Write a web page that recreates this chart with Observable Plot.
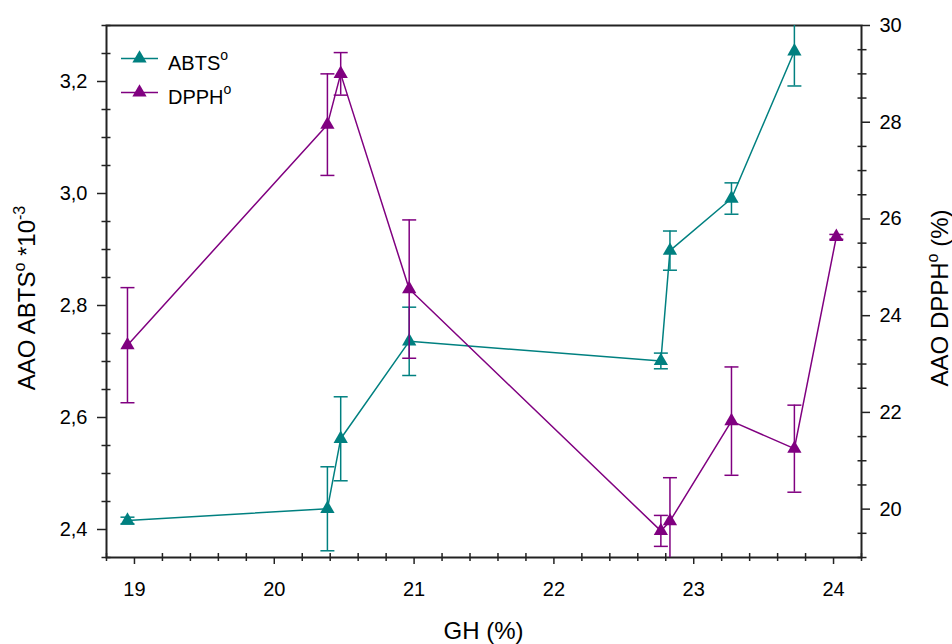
<!DOCTYPE html>
<html>
<head>
<meta charset="utf-8">
<script src="https://cdn.jsdelivr.net/npm/d3@7"></script>
<script src="https://cdn.jsdelivr.net/npm/@observablehq/plot@0.6"></script>
<style>
  html, body { margin: 0; padding: 0; background: #fff; }
  svg text { font-family: "Liberation Sans", Arial, sans-serif; }
</style>
</head>
<body>
<script>
// GH content (%) of each sample and the measured antioxidant activity
const ghAbts = [18.95, 20.38, 20.475, 20.965, 22.765, 22.83, 23.27, 23.72];
const abts = [2.416, 2.437, 2.562, 2.736, 2.701, 2.898, 2.991, 3.254];
const abtsSd = [0.006, 0.075, 0.075, 0.061, 0.014, 0.035, 0.028, 0.062];

const ghDpph = [18.95, 20.38, 20.475, 20.965, 22.765, 22.83, 23.27, 23.72, 24.02];
const dpph = [23.39, 27.95, 29.0, 24.55, 19.55, 19.75, 21.82, 21.25, 25.63];
const dpphSd = [1.19, 1.05, 0.44, 1.43, 0.32, 0.9, 1.12, 0.9, 0.05];

// axis domains and tick labels
const xDomain = [18.8, 24.2];
const abtsDomain = [2.35, 3.3];
const dpphDomain = [19, 30];
const xTicks = [19, 20, 21, 22, 23, 24];
const abtsTicks = [2.4, 2.6, 2.8, 3.0, 3.2];
const dpphTicks = [20, 22, 24, 26, 28, 30];

const teal = "#008080";
const purple = "#800080";
const axisColor = "#222";

// minor ticks between the labelled ones
const isMajor = (v, step) => Math.abs(v / step - Math.round(v / step)) < 1e-6;
const xMinor = d3.range(94, 122).map(i => i / 5).filter(v => !isMajor(v, 1));
const abtsMinor = d3.range(47, 67).map(i => i / 20).filter(v => !isMajor(v, 0.2));
const dpphMinor = d3.range(38, 60).map(i => i / 2).filter(v => !isMajor(v, 2));

// the DPPH series shares the plot area through a linear map onto the left scale
const toLeft = d3.scaleLinear(dpphDomain, abtsDomain);

const abtsRows = ghAbts.map((gh, i) => ({gh, v: abts[i], lo: abts[i] - abtsSd[i], hi: abts[i] + abtsSd[i]}));
const dpphRows = ghDpph.map((gh, i) => ({gh, v: toLeft(dpph[i]), lo: toLeft(dpph[i] - dpphSd[i]), hi: toLeft(dpph[i] + dpphSd[i])}));

// horizontal error-bar cap
const cap = {draw(context) { context.moveTo(-7, 0); context.lineTo(7, 0); }};
const comma = d => d.toFixed(1).replace(".", ",");

function series(rows, color) {
  return [
    Plot.line(rows, {x: "gh", y: "v", stroke: color, strokeWidth: 1.5}),
    Plot.ruleX(rows, {x: "gh", y1: "lo", y2: "hi", stroke: color, strokeWidth: 1.5, clip: true}),
    Plot.dot(rows, {x: "gh", y: "lo", symbol: cap, stroke: color, strokeWidth: 1.5, fill: "none", clip: true}),
    Plot.dot(rows, {x: "gh", y: "hi", symbol: cap, stroke: color, strokeWidth: 1.5, fill: "none", clip: true}),
    Plot.dot(rows, {x: "gh", y: "v", symbol: "triangle", r: 5.3, fill: color, stroke: null})
  ];
}

const chart = Plot.plot({
  width: 952,
  height: 644,
  marginLeft: 106,
  marginRight: 91,
  marginTop: 25,
  marginBottom: 87,
  style: {fontFamily: "'Liberation Sans', Arial, sans-serif", fontSize: "20px", color: "#000", background: "#fff"},
  x: {domain: xDomain, label: null},
  y: {domain: abtsDomain, label: null},
  marks: [
    // x axis
    Plot.axisX(xTicks, {anchor: "bottom", tickSize: 7, tickPadding: 17, strokeWidth: 1.5, stroke: axisColor, label: null, tickFormat: d => String(d)}),
    Plot.axisX(xMinor, {anchor: "bottom", tickSize: 8, dy: -4, strokeWidth: 1.5, stroke: axisColor, label: null, tickFormat: () => ""}),
    // left axis: ABTS
    Plot.axisY(abtsTicks, {anchor: "left", tickSize: 9, tickPadding: 10, strokeWidth: 1.5, stroke: axisColor, label: null, tickFormat: comma}),
    Plot.axisY(abtsMinor, {anchor: "left", tickSize: 9, dx: 4.5, strokeWidth: 1.5, stroke: axisColor, label: null, tickFormat: () => ""}),
    // right axis: DPPH
    Plot.axisY(dpphTicks.map(toLeft), {anchor: "right", tickSize: 8, tickPadding: 10, strokeWidth: 1.5, stroke: axisColor, label: null, tickFormat: d => String(Math.round(toLeft.invert(d)))}),
    Plot.axisY(dpphMinor.map(toLeft), {anchor: "right", tickSize: 9, dx: -4.5, strokeWidth: 1.5, stroke: axisColor, label: null, tickFormat: () => ""}),
    Plot.frame({stroke: axisColor, strokeWidth: 2}),
    ...series(abtsRows, teal),
    ...series(dpphRows, purple)
  ]
});

document.body.appendChild(chart);

// axis titles and legend with superscripts
const svg = d3.select(chart);
const font = "'Liberation Sans', Arial, sans-serif";

// parts: [{t}] plain runs, [{sup}] raised runs; the run after a raised one drops back down
function richText(sel, parts, size, supSize, shift) {
  let raised = false;
  parts.forEach(p => {
    const span = sel.append("tspan");
    if (p.sup) {
      span.attr("font-size", supSize).attr("dy", raised ? 0 : -shift).text(p.sup);
      raised = true;
    } else {
      span.attr("font-size", size).attr("dy", raised ? shift : 0).text(p.t);
      raised = false;
    }
  });
}

const xTitle = svg.append("text")
  .attr("x", 483.5).attr("y", 639)
  .attr("text-anchor", "middle").attr("font-family", font).attr("fill", "#000");
richText(xTitle, [{t: "GH (%)"}], 24, 16, 10);

const leftTitle = svg.append("text")
  .attr("transform", "translate(35,298) rotate(-90)")
  .attr("text-anchor", "middle").attr("font-family", font).attr("fill", "#000");
richText(leftTitle, [{t: "AAO ABTS"}, {sup: "o"}, {t: " *10"}, {sup: "-3"}], 24, 16, 10);

const rightTitle = svg.append("text")
  .attr("transform", "translate(948,298) rotate(-90)")
  .attr("text-anchor", "middle").attr("font-family", font).attr("fill", "#000");
richText(rightTitle, [{t: "AAO DPPH"}, {sup: "o"}, {t: " (%)"}], 24, 16, 10);

const legendItems = [
  {label: "ABTS", color: teal, y: 58.5},
  {label: "DPPH", color: purple, y: 92.5}
];
const tri = d3.symbol(d3.symbolTriangle, Math.PI * 5.3 * 5.3)();
const legend = svg.append("g");
legendItems.forEach(item => {
  const g = legend.append("g").attr("transform", `translate(0,${item.y})`);
  g.append("line").attr("x1", 121).attr("x2", 158).attr("stroke", item.color).attr("stroke-width", 1.5);
  g.append("path").attr("d", tri).attr("transform", "translate(139.5,0)").attr("fill", item.color);
  const t = g.append("text").attr("x", 168).attr("y", 11.5)
    .attr("text-anchor", "start").attr("font-family", font).attr("fill", "#000");
  richText(t, [{t: item.label}, {sup: "o"}], 20, 14, 10);
});
</script>
</body>
</html>
